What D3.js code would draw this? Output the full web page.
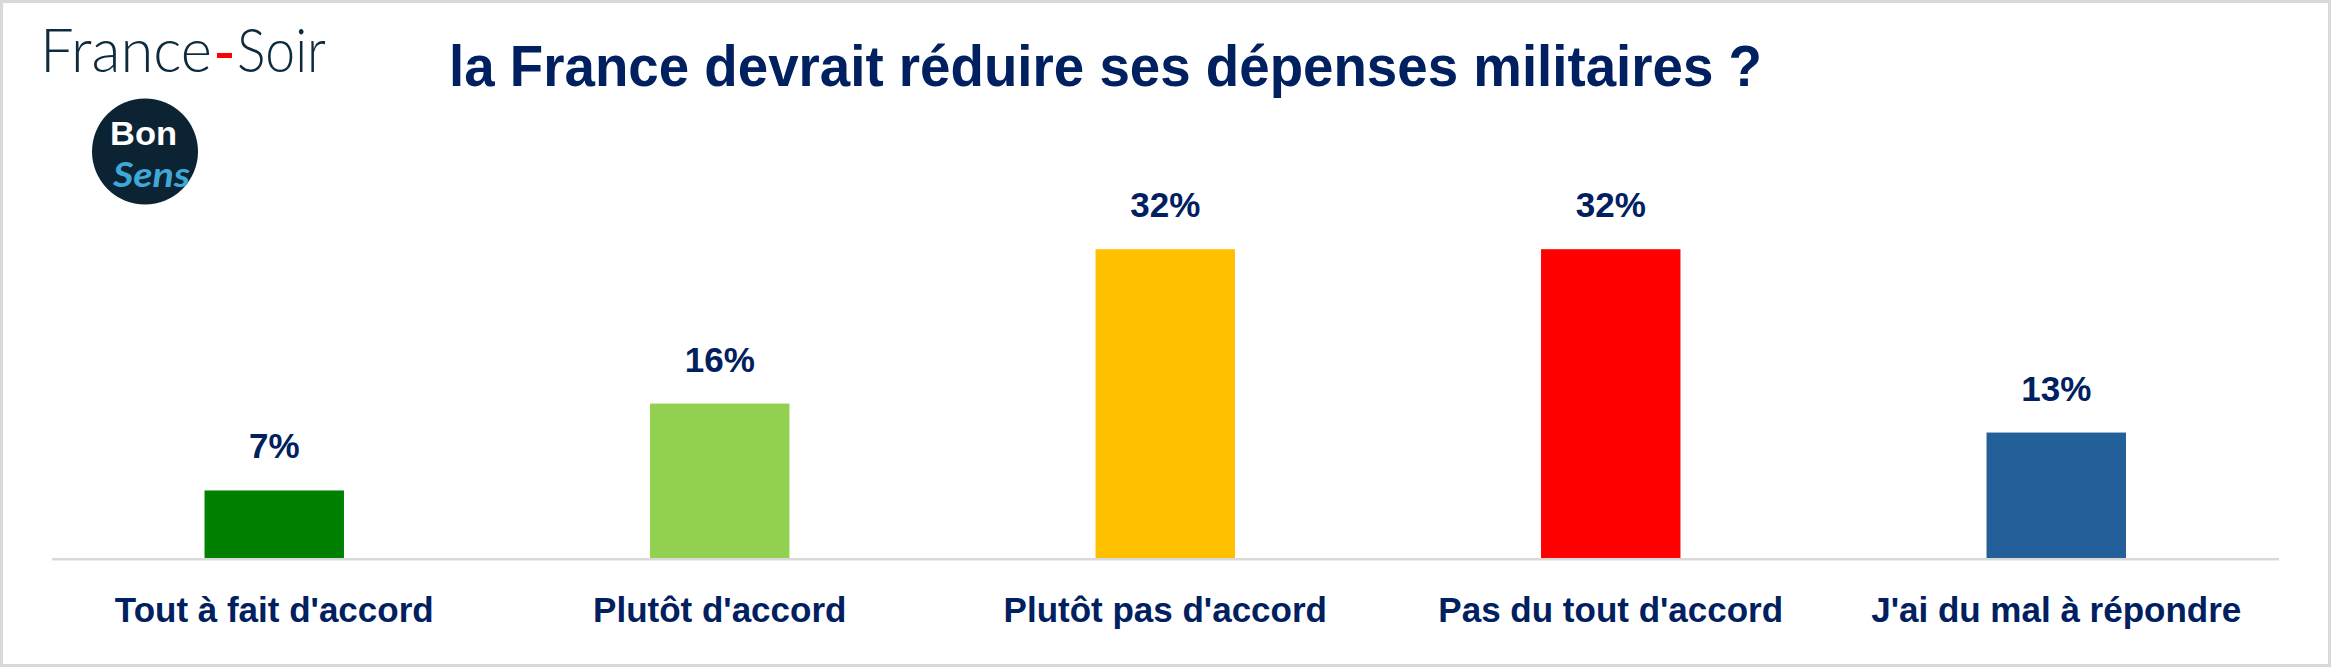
<!DOCTYPE html>
<html>
<head>
<meta charset="utf-8">
<script src="https://cdn.jsdelivr.net/npm/d3@7"></script>
<style>
  html, body { margin: 0; padding: 0; background: #ffffff; }
  svg { display: block; }
</style>
</head>
<body>
<script>
// ---- Data ----
const categories = ["Tout à fait d'accord", "Plutôt d'accord", "Plutôt pas d'accord", "Pas du tout d'accord", "J'ai du mal à répondre"];
const values = [7, 16, 32, 32, 13];
const barColors = ["#008000", "#92d050", "#ffc000", "#ff0000", "#235f99"];
const title = "la France devrait réduire ses dépenses militaires ?";

// ---- Layout ----
const W = 2331, H = 667;
const navy = "#002060";
const svg = d3.select("body").append("svg").attr("width", W).attr("height", H);

svg.append("rect").attr("x", 1.5).attr("y", 1.5).attr("width", W - 3).attr("height", H - 3)
  .attr("fill", "#ffffff").attr("stroke", "#d9d9d9").attr("stroke-width", 3);

const x = d3.scaleBand().domain(categories).range([51.5, 2279]).paddingInner(0.687).paddingOuter(0.3435);
const y = d3.scaleLinear().domain([0, 40]).range([558, 172]);

// bars
svg.append("g").selectAll("rect").data(values).join("rect")
  .attr("x", (d, i) => x(categories[i]))
  .attr("y", d => y(d))
  .attr("width", x.bandwidth())
  .attr("height", d => y(0) - y(d))
  .attr("fill", (d, i) => barColors[i]);

// baseline axis
const axis = d3.axisBottom(x).tickSize(0).tickPadding(0);
const gx = svg.append("g").attr("transform", "translate(0,559.2)").call(axis);
gx.select(".domain").attr("stroke", "#d9d9d9").attr("stroke-width", 2.5).attr("d", "M52,0H2279");
gx.selectAll(".tick text").remove();

// category labels
svg.append("g").selectAll("text").data(categories).join("text")
  .attr("x", d => x(d) + x.bandwidth() / 2)
  .attr("y", 622)
  .attr("text-anchor", "middle")
  .attr("font-family", "'Liberation Sans', Arial, sans-serif")
  .attr("font-weight", "bold")
  .attr("font-size", 35)
  .attr("fill", navy)
  .text(d => d);

// value labels
svg.append("g").selectAll("text").data(values).join("text")
  .attr("x", (d, i) => x(categories[i]) + x.bandwidth() / 2)
  .attr("y", d => y(d) - 32)
  .attr("text-anchor", "middle")
  .attr("font-family", "'Liberation Sans', Arial, sans-serif")
  .attr("font-weight", "bold")
  .attr("font-size", 35)
  .attr("fill", navy)
  .text(d => d + "%");

// title
svg.append("text")
  .attr("x", 449).attr("y", 86)
  .attr("font-family", "'Liberation Sans', Arial, sans-serif")
  .attr("font-weight", "bold")
  .attr("font-size", 57)
  .attr("fill", navy)
  .attr("textLength", 1313)
  .attr("lengthAdjust", "spacingAndGlyphs")
  .text(title);

// France-Soir logo
const logo = svg.append("g");
logo.append("text").attr("x", 40).attr("y", 72)
  .attr("font-family", "Lato, 'Open Sans', sans-serif").attr("font-weight", 300)
  .attr("font-size", 62).attr("fill", "#0e2a3d")
  .attr("textLength", 172).attr("lengthAdjust", "spacingAndGlyphs")
  .text("France");
logo.append("rect").attr("x", 217).attr("y", 53).attr("width", 15).attr("height", 5).attr("fill", "#ff0000");
logo.append("text").attr("x", 237).attr("y", 72)
  .attr("font-family", "Lato, 'Open Sans', sans-serif").attr("font-weight", 300)
  .attr("font-size", 62).attr("fill", "#0e2a3d")
  .attr("textLength", 89).attr("lengthAdjust", "spacingAndGlyphs")
  .text("Soir");

// BonSens badge
const badge = svg.append("g");
badge.append("circle").attr("cx", 145).attr("cy", 151.5).attr("r", 53).attr("fill", "#0c2333");
badge.append("text").attr("x", 110).attr("y", 145)
  .attr("font-family", "'Liberation Sans', Arial, sans-serif").attr("font-weight", "bold")
  .attr("font-size", 34).attr("fill", "#ffffff")
  .attr("textLength", 67).attr("lengthAdjust", "spacingAndGlyphs")
  .text("Bon");
badge.append("text").attr("x", 113).attr("y", 187)
  .attr("font-family", "Lato, 'DejaVu Sans', sans-serif").attr("font-style", "italic").attr("font-weight", "bold")
  .attr("font-size", 34).attr("fill", "#3ea9d9")
  .attr("textLength", 77).attr("lengthAdjust", "spacingAndGlyphs")
  .text("Sens");
</script>
</body>
</html>
